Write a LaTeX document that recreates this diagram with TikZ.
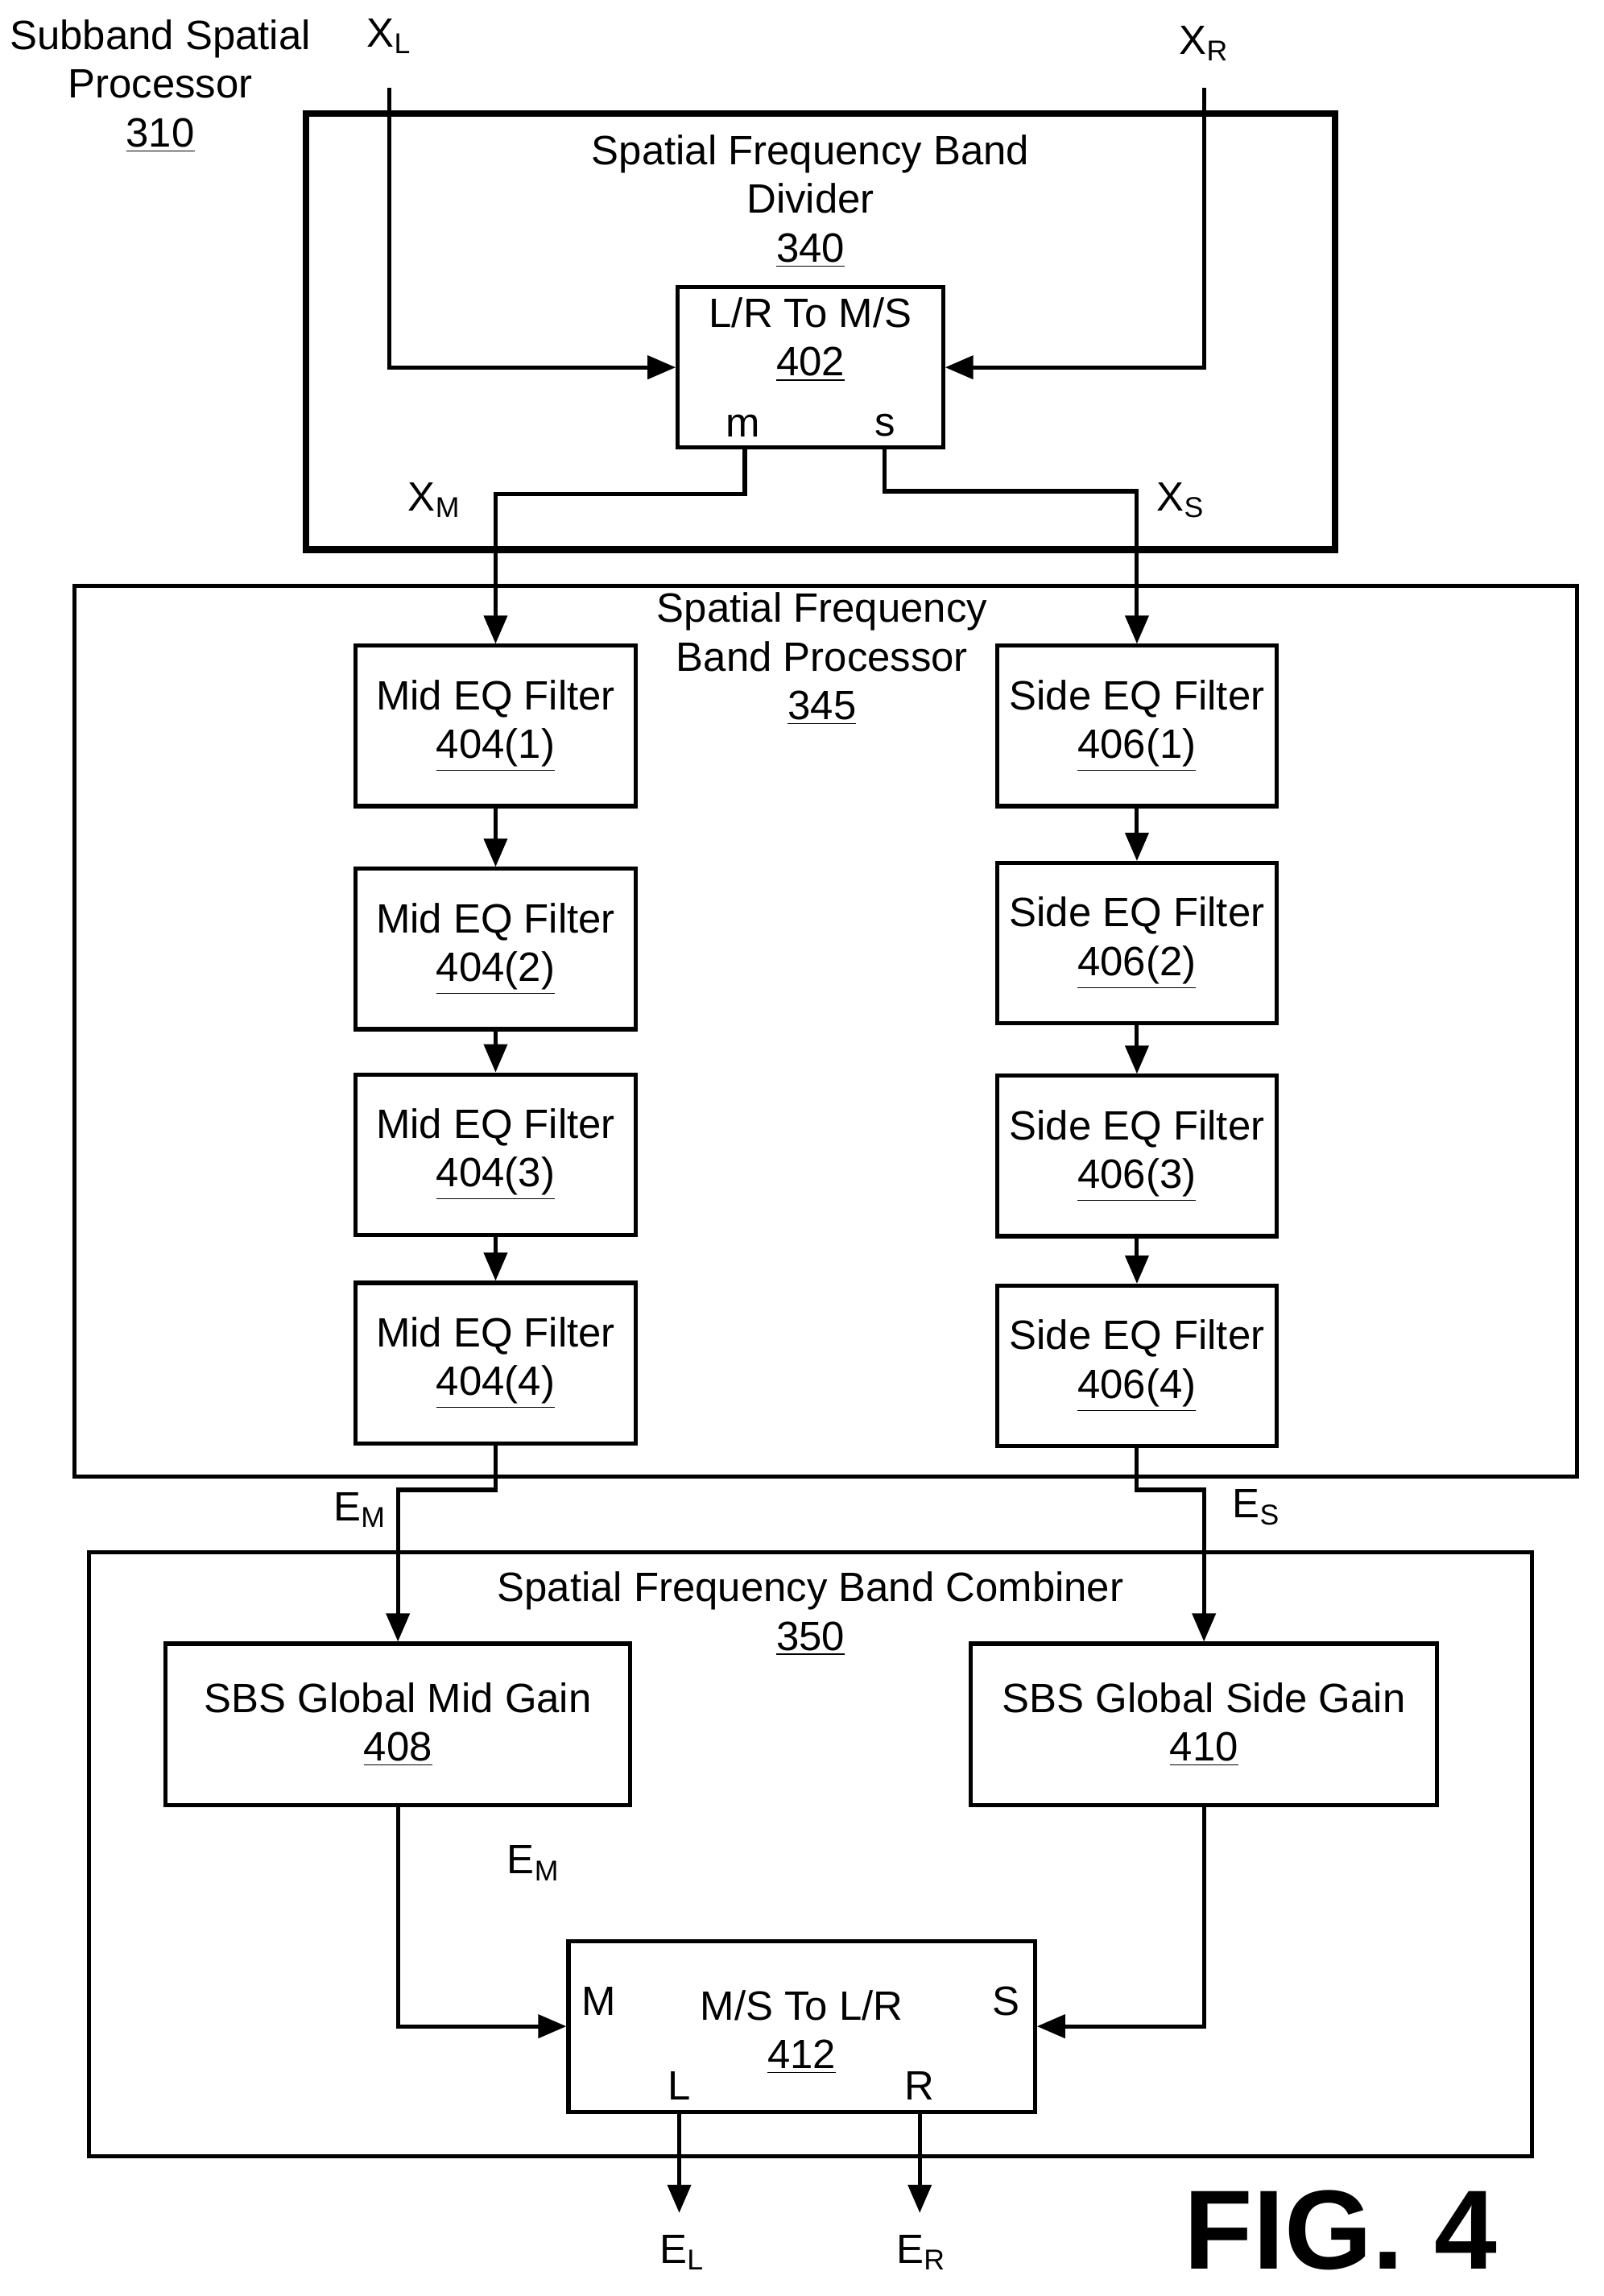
\documentclass[tikz,border=0pt]{standalone}
\usepackage{fontspec}
\setmainfont{Liberation Sans}
\usetikzlibrary{arrows.meta}
\tikzset{
  blk/.style={draw, line width=1.6pt, align=center, inner sep=0pt},
  frm/.style={draw, line width=1.6pt},
  lbl/.style={align=center, inner sep=0pt},
  sig/.style={line width=1.6pt, -{Triangle[length=11pt,width=9pt]}},
}
\newcommand{\nm}[1]{\underline{#1}}
\begin{document}
\begin{tikzpicture}[x=0.02cm, y=-0.02cm, font=\fontsize{16}{19}\selectfont]
    \useasboundingbox (0,0) rectangle (1100,1575);
    % frames
    \draw[frm, line width=2.6pt] (210,78) rectangle (916,377);
    \draw[frm] (51,402) rectangle (1082,1013);
    \draw[frm] (61,1065) rectangle (1051,1479);
    \node[lbl] (sp) at (110,59) {Subband Spatial\\Processor\\\nm{310}};
    \node[lbl] (div) at (556,138) {Spatial Frequency Band\\Divider\\\nm{340}};
    \node[lbl] (proc) at (564,452) {Spatial Frequency\\Band Processor\\\nm{345}};
    \node[lbl] (comb) at (556,1107) {Spatial Frequency Band Combiner\\\nm{350}};
    % blocks
    \node[blk, minimum width=182*0.02cm, minimum height=110*0.02cm] (lrms) at (556,252) {};
    \node[lbl] at (556,233) {L/R To M/S\\\nm{402}};
    \node[lbl] at (510,292) {m};
    \node[lbl] at (607,292) {s};
    \foreach \i/\y in {1/498, 2/651, 3/792, 4/935} {
        \node[blk, minimum width=192*0.02cm, minimum height=110*0.02cm] (mid\i) at (340,\y) {Mid EQ Filter\\\nm{404(\i)}};
    }
    \foreach \i/\y in {1/498, 2/647, 3/793, 4/937} {
        \node[blk, minimum width=192*0.02cm, minimum height=110*0.02cm] (side\i) at (780,\y) {Side EQ Filter\\\nm{406(\i)}};
    }
    \node[blk, minimum width=319*0.02cm, minimum height=111*0.02cm] (gmid) at (273,1183) {SBS Global Mid Gain\\\nm{408}};
    \node[blk, minimum width=320*0.02cm, minimum height=111*0.02cm] (gside) at (826,1183) {SBS Global Side Gain\\\nm{410}};
    \node[blk, minimum width=320*0.02cm, minimum height=117*0.02cm] (mslr) at (550,1390) {};
    \node[lbl] at (550,1394) {M/S To L/R\\\nm{412}};
    \node[lbl] at (411,1373) {M};
    \node[lbl] at (690,1373) {S};
    \node[lbl] at (466,1431) {L};
    \node[lbl] at (631,1431) {R};
    % signal labels
    \node[lbl] (xl) at (267,25) {X\textsubscript{L}};
    \node[lbl] (xr) at (826,30) {X\textsubscript{R}};
    \node[lbl] at (298,343) {X\textsubscript{M}};
    \node[lbl] at (810,343) {X\textsubscript{S}};
    \node[lbl] at (247,1036) {E\textsubscript{M}};
    \node[lbl] at (862,1034) {E\textsubscript{S}};
    \node[lbl] at (366,1278) {E\textsubscript{M}};
    \coordinate (el) at (466,1518);
    \coordinate (er) at (631,1518);
    \node[lbl] at (468,1545) {E\textsubscript{L}};
    \node[lbl] at (632,1545) {E\textsubscript{R}};
    \node[lbl, font=\fontsize{44}{50}\selectfont\bfseries] (fig) at (920,1530) {FIG. 4};
    % connectors
    \draw[sig] (267,60) |- (lrms.west);
    \draw[sig] (826,60) |- (lrms.east);
    \draw[sig] (lrms.south -| 511,0) -- (511,339) -| (mid1.north);
    \draw[sig] (lrms.south -| 607,0) -- (607,337) -| (side1.north);
    \foreach \a/\b in {1/2, 2/3, 3/4} {
        \draw[sig] (mid\a) -- (mid\b);
        \draw[sig] (side\a) -- (side\b);
    }
    \draw[sig] (mid4.south) -- (340,1022) -| (gmid.north);
    \draw[sig] (side4.south) -- (780,1022) -| (gside.north);
    \draw[sig] (gmid.south) |- (mslr.west);
    \draw[sig] (gside.south) |- (mslr.east);
    \draw[sig] (mslr.south -| el) -- (el);
    \draw[sig] (mslr.south -| er) -- (er);
\end{tikzpicture}
\end{document}
